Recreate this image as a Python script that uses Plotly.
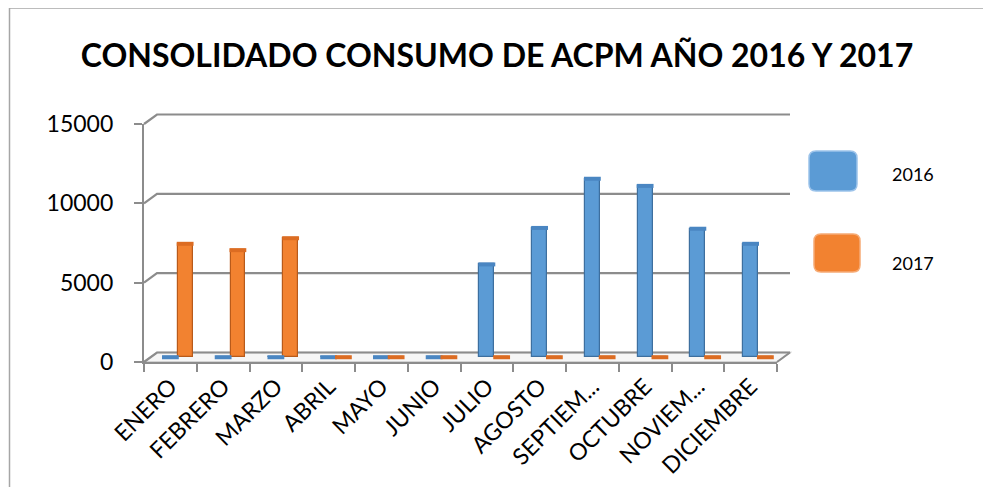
import plotly.graph_objects as go

# ---------------- data ----------------
months = ["ENERO", "FEBRERO", "MARZO", "ABRIL", "MAYO", "JUNIO", "JULIO",
          "AGOSTO", "SEPTIEM...", "OCTUBRE", "NOVIEM...", "DICIEMBRE"]
series_names = ["2016", "2017"]
values_2016 = [0, 0, 0, 0, 0, 0, 5850, 8150, 11250, 10800, 8100, 7150]
values_2017 = [7150, 6750, 7500, 0, 0, 0, 0, 0, 0, 0, 0, 0]
y_ticks = [0, 5000, 10000, 15000]
y_tick_labels = ["0", "5000", "10000", "15000"]
title_text = "CONSOLIDADO CONSUMO DE ACPM AÑO 2016 Y 2017"

# ---------------- layout constants (page pixels) ----------------
PAGE_W, PAGE_H = 991, 495
OFF = 8                               # default body margin of the html page
W, H = PAGE_W - OFF, PAGE_H - 2 * OFF  # figure size that fits the window
L, R, T, B = 144, 777, 124, 362      # front plot frame (page pixels)
DX, DY = 13, 9.5                     # 3D depth offset of the back wall
YMAX = 15000
GRID = "#8c8c8c"
FONT = "Lato, 'Open Sans', sans-serif"

BLUE, BLUE_EDGE, BLUE_TOP = "#5b9bd5", "#3d6f9f", "#4a86c2"
ORANGE, ORANGE_EDGE, ORANGE_TOP = "#f28230", "#b85a1a", "#dc6c22"
colors = [(BLUE, BLUE_EDGE, BLUE_TOP), (ORANGE, ORANGE_EDGE, ORANGE_TOP)]
BAR_W = 0.28
offsets = [-BAR_W / 2, BAR_W / 2]


def px(xp):
    return (xp - L) / (R - L)


def py(yp):
    return (B - yp) / (B - T)


def val_front(v):
    return B - v / YMAX * (B - T)


fig = go.Figure()

xs = list(range(len(months)))
# invisible trace so that the labelled front value axis is drawn
fig.add_trace(go.Scatter(x=xs, y=values_2016, mode="none", yaxis="y",
                         showlegend=False, hoverinfo="skip"))
for name, vals, (c, ce, ct), off in zip(series_names, [values_2016, values_2017], colors, offsets):
    fig.add_trace(go.Bar(
        x=xs, y=vals, name=name, width=BAR_W, offset=off,
        marker=dict(color=c, line=dict(color=ce, width=1.2)),
        yaxis="y2", showlegend=False, hoverinfo="x+y+name",
    ))
    fig.add_trace(go.Scatter(
        x=[i + off + BAR_W / 2 for i in xs], y=vals, mode="markers",
        marker=dict(symbol="line-ew", size=12, line=dict(color=ct, width=4)),
        yaxis="y2", showlegend=False, hoverinfo="skip",
    ))

shapes = []
# floor
fl = (f"M {px(L)} {py(B)} L {px(R)} {py(B)} L {px(R + DX)} {py(B - DY)} "
      f"L {px(L + DX)} {py(B - DY)} Z")
shapes.append(dict(type="path", xref="paper", yref="paper", path=fl,
                   fillcolor="#f6f6f6", line=dict(color="#c8c8c8", width=1.5), layer="below"))
# back wall gridlines with diagonal connectors
for v in y_ticks:
    fy = val_front(v)
    p = (f"M {px(L)} {py(fy)} L {px(L + DX)} {py(fy - DY)} "
         f"L {px(R + DX)} {py(fy - DY)}")
    shapes.append(dict(type="path", xref="paper", yref="paper", path=p,
                       line=dict(color=GRID, width=2.2), layer="below"))
# floor right edge
shapes.append(dict(type="line", xref="paper", yref="paper",
                   x0=px(R), y0=py(B), x1=px(R + DX), y1=py(B - DY),
                   line=dict(color=GRID, width=2), layer="below"))
# chart border
shapes.append(dict(type="rect", xref="paper", yref="paper",
                   x0=px(9.5), y0=py(8), x1=px(985), y1=py(520),
                   line=dict(color="#a6a6a6", width=1.5), layer="below"))


# legend (manual, large rounded swatches)
def rounded(x0, y0, x1, y1, r):
    return (f"M {px(x0 + r)} {py(y0)} L {px(x1 - r)} {py(y0)} "
            f"Q {px(x1)} {py(y0)} {px(x1)} {py(y0 + r)} "
            f"L {px(x1)} {py(y1 - r)} Q {px(x1)} {py(y1)} {px(x1 - r)} {py(y1)} "
            f"L {px(x0 + r)} {py(y1)} Q {px(x0)} {py(y1)} {px(x0)} {py(y1 - r)} "
            f"L {px(x0)} {py(y0 + r)} Q {px(x0)} {py(y0)} {px(x0 + r)} {py(y0)} Z")


legend_boxes = [(809, 151, 857, 191), (814, 234, 860, 272)]
legend_text_y = [174, 263]
annotations = []
for name, (c, ce, ct), box, ty in zip(series_names, colors, legend_boxes, legend_text_y):
    shapes.append(dict(type="path", xref="paper", yref="paper", path=rounded(*box, 7),
                       fillcolor=c, line=dict(color="#9cc3ea" if c == BLUE else "#f6ab75", width=1.5)))
    annotations.append(dict(xref="paper", yref="paper", x=px(890), y=py(ty),
                            text=name, showarrow=False, xanchor="left", yanchor="middle",
                            font=dict(family=FONT, size=18, color="black")))

shift = (DY / 2) / (B - T) * YMAX

fig.update_layout(
    width=W, height=H,
    margin=dict(l=L - OFF, r=W - (R - OFF), t=T - OFF, b=H - (B - OFF), pad=0,
                autoexpand=False),
    paper_bgcolor="white", plot_bgcolor="rgba(0,0,0,0)",
    title=dict(text=f"<b>{title_text}</b>", x=(497 - OFF) / W, xref="container", xanchor="center",
               y=1 - (56 - OFF) / H, yref="container", yanchor="middle",
               font=dict(family=FONT, size=32, color="black")),
    xaxis=dict(range=[-0.5, len(months) - 0.5], tickmode="array", tickvals=xs, ticktext=months,
               tickangle=-45, ticks="", showgrid=False, zeroline=False, automargin=False,
               showline=True, linecolor=GRID, linewidth=2.2,
               minor=dict(tick0=-0.5, dtick=1, ticks="outside", ticklen=8,
                          tickcolor=GRID, tickwidth=2, showgrid=False),
               tickfont=dict(family=FONT, size=23, color="black")),
    yaxis=dict(range=[0, YMAX], tickmode="array", tickvals=y_ticks, ticktext=y_tick_labels,
               showgrid=False, zeroline=False, showline=True, linecolor=GRID, linewidth=2.2,
               ticks="outside", ticklen=8, tickcolor=GRID, tickwidth=2, automargin=False,
               ticklabelstandoff=16, tickfont=dict(family=FONT, size=23, color="black")),
    yaxis2=dict(range=[-shift, YMAX - shift], overlaying="y", visible=False, automargin=False),
    shapes=shapes, annotations=annotations, showlegend=False,
    bargap=0, barmode="overlay",
)

fig.write_html("out.html")
